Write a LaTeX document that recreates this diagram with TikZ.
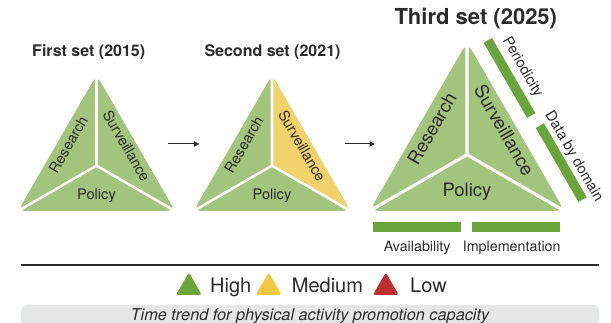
\documentclass[tikz,border=0pt]{standalone}
\usepackage{fontspec}
\setmainfont{TeX Gyre Heros}
\usepackage{tikz}
\usetikzlibrary{arrows.meta}
\usetikzlibrary{calc}
\usetikzlibrary{shapes.geometric}
\definecolor{lgreen}{HTML}{A3C47D}
\definecolor{dgreen}{HTML}{6AA53B}
\definecolor{myellow}{HTML}{F2D36B}
\definecolor{lyellow}{HTML}{F3C843}
\definecolor{lred}{HTML}{BF2E2E}
\definecolor{boxgray}{HTML}{E4E7E7}
\definecolor{txtgray}{HTML}{2B2B2B}
\newcommand\fsz[1]{\fontsize{#1}{#1}\selectfont}
\tikzstyle{lab}=[text=txtgray,inner sep=0pt]
\tikzstyle{sep}=[draw=white,line cap=butt]
\tikzstyle{bar}=[fill=dgreen,inner sep=0pt,outer sep=0pt]
\tikzstyle{legtri}=[regular polygon,regular polygon sides=3,minimum size=30pt,inner sep=0pt,rounded corners=2.5pt]
\tikzstyle{setarrow}=[draw=txtgray,line width=1pt,-{Triangle[length=5.5pt,width=5.5pt]}]
% one set: name, centre x, bottom y, side, colour of surveillance, font size
\newcommand\capset[6]{%
  \pgfmathsetmacro\rr{0.05*#4}\pgfmathsetmacro\ww{0.016*#4}%
  \coordinate (#1-l) at ({#2-#4/2},#3);
  \coordinate (#1-r) at ({#2+#4/2},#3);
  \coordinate (#1-t) at (#2,{#3-0.866*#4});
  \coordinate (#1-c) at (#2,{#3-0.2887*#4});
  \fill[lgreen,rounded corners=\rr pt] (#1-l) -- (#1-t) -- (#1-r) -- cycle;
  \begin{scope}
    \clip[rounded corners=\rr pt] (#1-l) -- (#1-t) -- (#1-r) -- cycle;
    \fill[#5] (#1-t) -- (#1-r) -- (#1-c) -- cycle;
  \end{scope}
  \draw[sep,line width=\ww pt] (#1-t) -- (#1-c) -- (#1-l) (#1-c) -- (#1-r);
  \node[lab,font=\fsz{#6},rotate=60]  (#1-res) at ($(#1-l)!0.5!(#1-t)+({0.07*#4},{0.011*#4})$) {Research};
  \node[lab,font=\fsz{#6},rotate=-60] (#1-sur) at ($(#1-t)!0.5!(#1-r)+({-0.058*#4},{0.018*#4})$) {Surveillance};
  \node[lab,font=\fsz{#6}]            (#1-pol) at ($(#1-l)!0.5!(#1-r)+(0,{-0.097*#4})$) {Policy};
}

\begin{document}
\begin{tikzpicture}[x=1pt,y=-1pt]
	\useasboundingbox (0,0) rectangle (611,323);
	\capset{s1}{96.5}{211}{157}{lgreen}{14.6}
	\capset{s2}{272}{211}{157}{myellow}{14.6}
	\capset{s3}{467}{211}{195}{lgreen}{18.5}
	\node[lab,font=\bfseries\fsz{16},anchor=base] (s1-title) at (88.7,56.7) {First set (2015)};
	\node[lab,font=\bfseries\fsz{16},anchor=base] (s2-title) at (272.5,56.7) {Second set (2021)};
	\node[lab,font=\bfseries\fsz{22},anchor=base] (s3-title) at (475.8,25) {Third set (2025)};
	\coordinate (a1-from) at (168.3,144); \coordinate (a1-to) at (199.3,144);
	\coordinate (a2-from) at (344.5,144); \coordinate (a2-to) at (375,144);
	\draw[setarrow] (a1-from) -- (a1-to);
	\draw[setarrow] (a2-from) -- (a2-to);
	% indicators of the third set
	\node[bar,minimum width=88.3pt,minimum height=10pt] (avail-bar) at (416.9,226.7) {};
	\node[bar,minimum width=88.3pt,minimum height=10pt] (impl-bar) at (515.9,226.7) {};
	\node[lab,font=\fsz{14.3},anchor=base] (avail) at (417.2,251.7) {Availability};
	\node[lab,font=\fsz{14.3},anchor=base] (impl) at (511.7,251.7) {Implementation};
	\node[bar,rotate=-60,minimum width=86.8pt,minimum height=9.5pt] (period-bar) at (509.5,77.9) {};
	\node[bar,rotate=-60,minimum width=85.4pt,minimum height=9.5pt] (domain-bar) at (561.2,162.6) {};
	\node[lab,font=\fsz{14.6},rotate=-60] (period) at (522.3,67.3) {Periodicity};
	\node[lab,font=\fsz{14.6},rotate=-60] (domain) at (573.7,156.7) {Data by domain};
	% legend
	\coordinate (rule-l) at (21,265); \coordinate (rule-r) at (599.3,265);
	\draw[line width=1.5pt,draw=txtgray] (rule-l) -- (rule-r);
	\node[legtri,fill=dgreen]  (high-tri) at (188.9,287.5) {};
	\node[legtri,fill=lyellow] (med-tri)  at (268.7,287.5) {};
	\node[legtri,fill=lred]    (low-tri)  at (385.8,287.5) {};
	\node[lab,font=\fsz{20},anchor=base west] (high) at (210,293) {High};
	\node[lab,font=\fsz{20},anchor=base west] (med)  at (291.7,293) {Medium};
	\node[lab,font=\fsz{20},anchor=base west] (low)  at (410,293) {Low};
	\fill[boxgray,rounded corners=6pt] (21,305) rectangle (599.3,340);
	\node[lab,font=\itshape\fsz{16.3},anchor=base] (trend) at (310,320) {Time trend for physical activity promotion capacity};
\end{tikzpicture}
\end{document}
